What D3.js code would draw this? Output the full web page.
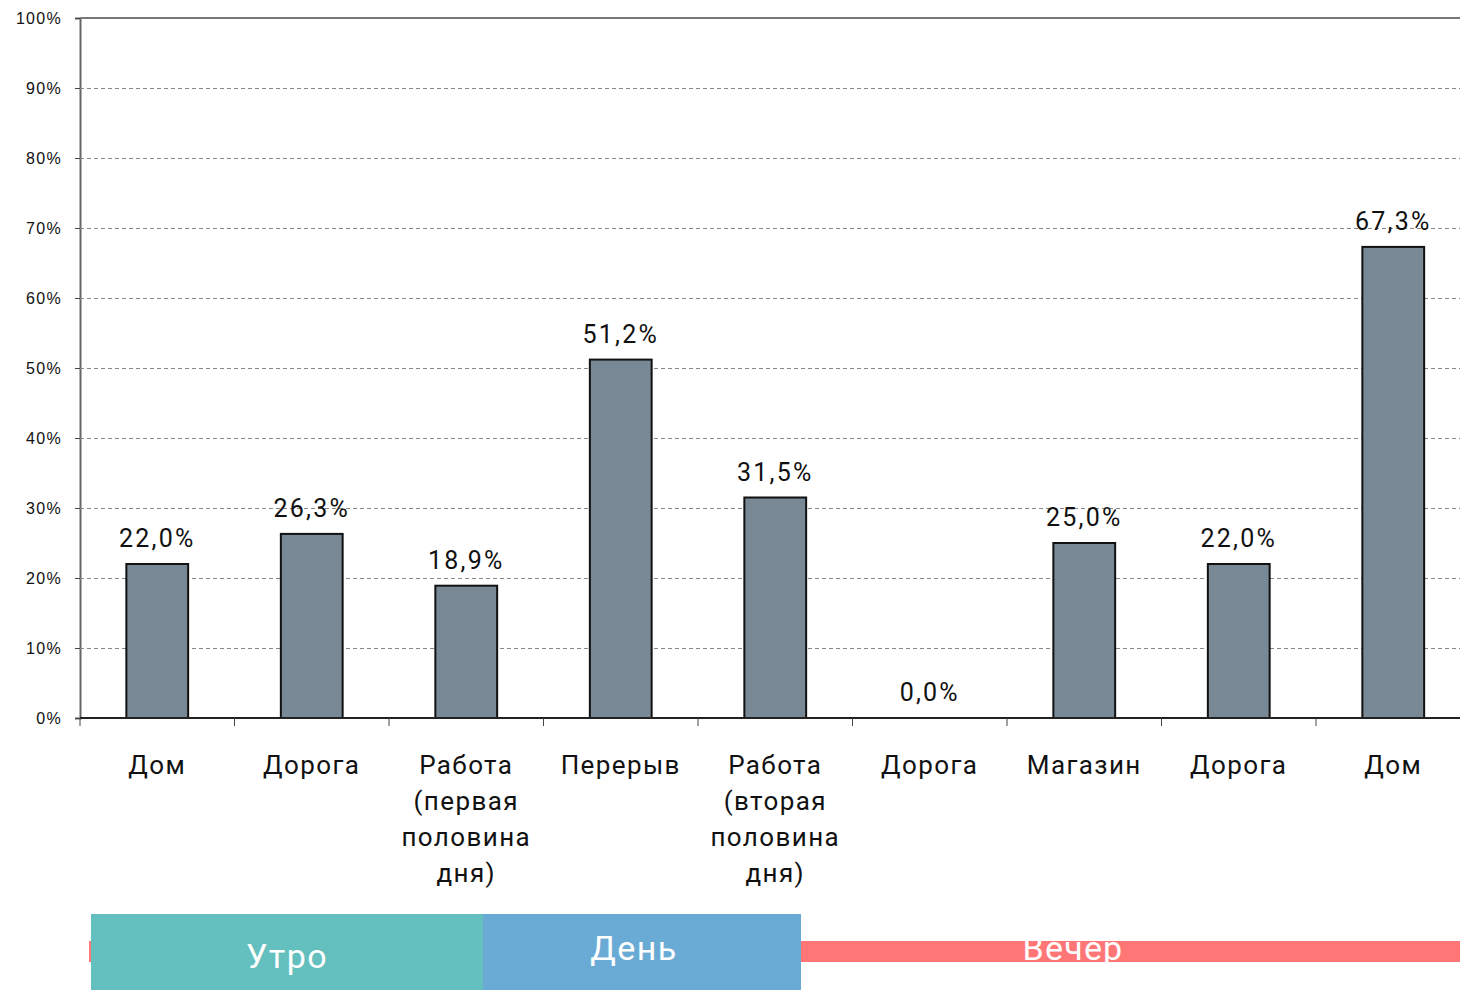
<!DOCTYPE html>
<html>
<head>
<meta charset="utf-8">
<script src="https://cdn.jsdelivr.net/npm/d3@7"></script>
<style>
  body { margin: 0; background: #fff; }
  svg { display: block; font-family: Roboto, 'Noto Sans', sans-serif; }
</style>
</head>
<body>
<svg id="chart"></svg>
<script>
// Data
const categories = ['Дом', 'Дорога', 'Работа (первая половина дня)', 'Перерыв',
  'Работа (вторая половина дня)', 'Дорога', 'Магазин', 'Дорога', 'Дом'];
const values = [22.0, 26.3, 18.9, 51.2, 31.5, 0.0, 25.0, 22.0, 67.3];
const yTicks = [0, 10, 20, 30, 40, 50, 60, 70, 80, 90, 100];
const periods = ['Утро', 'День', 'Вечер'];
const periodColors = ['#63c0be', '#6aabd6', '#ff7676'];

const width = 1460, height = 999;
const marginTop = 18, marginLeft = 80, marginBottom = 280;
const step = 154.5;

const svg = d3.select('#chart')
  .attr('width', width)
  .attr('height', height)
  .attr('viewBox', [0, 0, width, height]);

const keys = d3.range(categories.length);
const x = d3.scaleBand(keys, [marginLeft, marginLeft + step * categories.length])
  .paddingInner(0.6).paddingOuter(0.3);
const y = d3.scaleLinear([0, 100], [height - marginBottom - 1, marginTop]);

const fmt = v => d3.format('.1f')(v).replace('.', ',') + '%';

// Y axis with grid
svg.append('g')
  .attr('transform', `translate(${marginLeft},0)`)
  .call(d3.axisLeft(y).tickValues(yTicks).tickSize(5).tickFormat(d => d + '%'))
  .call(g => g.select('.domain').attr('stroke', '#666').attr('stroke-width', 2))
  .call(g => g.selectAll('.tick line').attr('stroke', '#444'))
  .call(g => g.selectAll('.tick text')
    .attr('x', -18).attr('font-size', 16).attr('letter-spacing', 1.3).attr('fill', '#111'))
  .call(g => g.selectAll('.tick').filter(d => d > 0 && d < 100)
    .append('line')
      .attr('x1', 0).attr('x2', width)
      .attr('stroke', '#888')
      .attr('stroke-dasharray', '4,3'));

// top border
svg.append('line')
  .attr('x1', marginLeft).attr('x2', width)
  .attr('y1', y(100)).attr('y2', y(100))
  .attr('stroke', '#777').attr('stroke-width', 2);

// Bars
svg.append('g')
  .selectAll('rect')
  .data(keys.filter(i => values[i] > 0))
  .join('rect')
    .attr('x', i => x(i))
    .attr('y', i => y(values[i]))
    .attr('width', x.bandwidth())
    .attr('height', i => y(0) - y(values[i]))
    .attr('fill', '#788995')
    .attr('stroke', '#111')
    .attr('stroke-width', 2);

// Value labels
svg.append('g')
  .selectAll('text')
  .data(keys)
  .join('text')
    .attr('x', i => x(i) + x.bandwidth() / 2)
    .attr('y', i => y(values[i]) - 17)
    .attr('text-anchor', 'middle')
    .attr('font-size', 25)
    .attr('letter-spacing', 2.2)
    .attr('fill', '#111')
    .text(i => fmt(values[i]));

// X axis
const xBottom = y(0);
svg.append('line')
  .attr('x1', marginLeft).attr('x2', width)
  .attr('y1', xBottom).attr('y2', xBottom)
  .attr('stroke', '#222').attr('stroke-width', 2);

svg.append('g')
  .selectAll('line')
  .data(d3.range(categories.length + 1))
  .join('line')
    .attr('x1', i => marginLeft + i * step)
    .attr('x2', i => marginLeft + i * step)
    .attr('y1', xBottom).attr('y2', xBottom + 8)
    .attr('stroke', '#444');

const wrap = {
  'Работа (первая половина дня)': ['Работа', '(первая', 'половина', 'дня)'],
  'Работа (вторая половина дня)': ['Работа', '(вторая', 'половина', 'дня)']
};

svg.append('g')
  .selectAll('text')
  .data(keys)
  .join('text')
    .attr('text-anchor', 'middle')
    .attr('font-size', 26)
    .attr('letter-spacing', 1.4)
    .attr('fill', '#111')
    .call(t => t.selectAll('tspan')
      .data(i => (wrap[categories[i]] || [categories[i]]).map(s => ({ s, i })))
      .join('tspan')
        .attr('x', d => marginLeft + d.i * step + step / 2)
        .attr('y', (d, j) => 774 + j * 36)
        .text(d => d.s));

// Period bands
const band = svg.append('g');
band.append('clipPath').attr('id', 'eveClip')
  .append('rect').attr('x', 89).attr('y', 941).attr('width', width - 89).attr('height', 21);
band.append('rect')
  .attr('x', 89).attr('y', 941).attr('width', width - 89).attr('height', 21)
  .attr('fill', periodColors[2]);
band.append('text')
  .attr('clip-path', 'url(#eveClip)')
  .attr('x', 1073).attr('y', 960)
  .attr('text-anchor', 'middle').attr('font-size', 34).attr('letter-spacing', 1.2).attr('fill', '#fff')
  .text(periods[2]);

band.append('rect')
  .attr('x', 91).attr('y', 914).attr('width', 392).attr('height', 76)
  .attr('fill', periodColors[0]);
band.append('text')
  .attr('x', 287).attr('y', 968)
  .attr('text-anchor', 'middle').attr('font-size', 34).attr('letter-spacing', 1.5).attr('fill', '#fff')
  .text(periods[0]);

band.append('rect')
  .attr('x', 483).attr('y', 914).attr('width', 318).attr('height', 76)
  .attr('fill', periodColors[1]);
band.append('text')
  .attr('x', 634).attr('y', 960)
  .attr('text-anchor', 'middle').attr('font-size', 34).attr('letter-spacing', 1.5).attr('fill', '#fff')
  .text(periods[1]);
</script>
</body>
</html>
